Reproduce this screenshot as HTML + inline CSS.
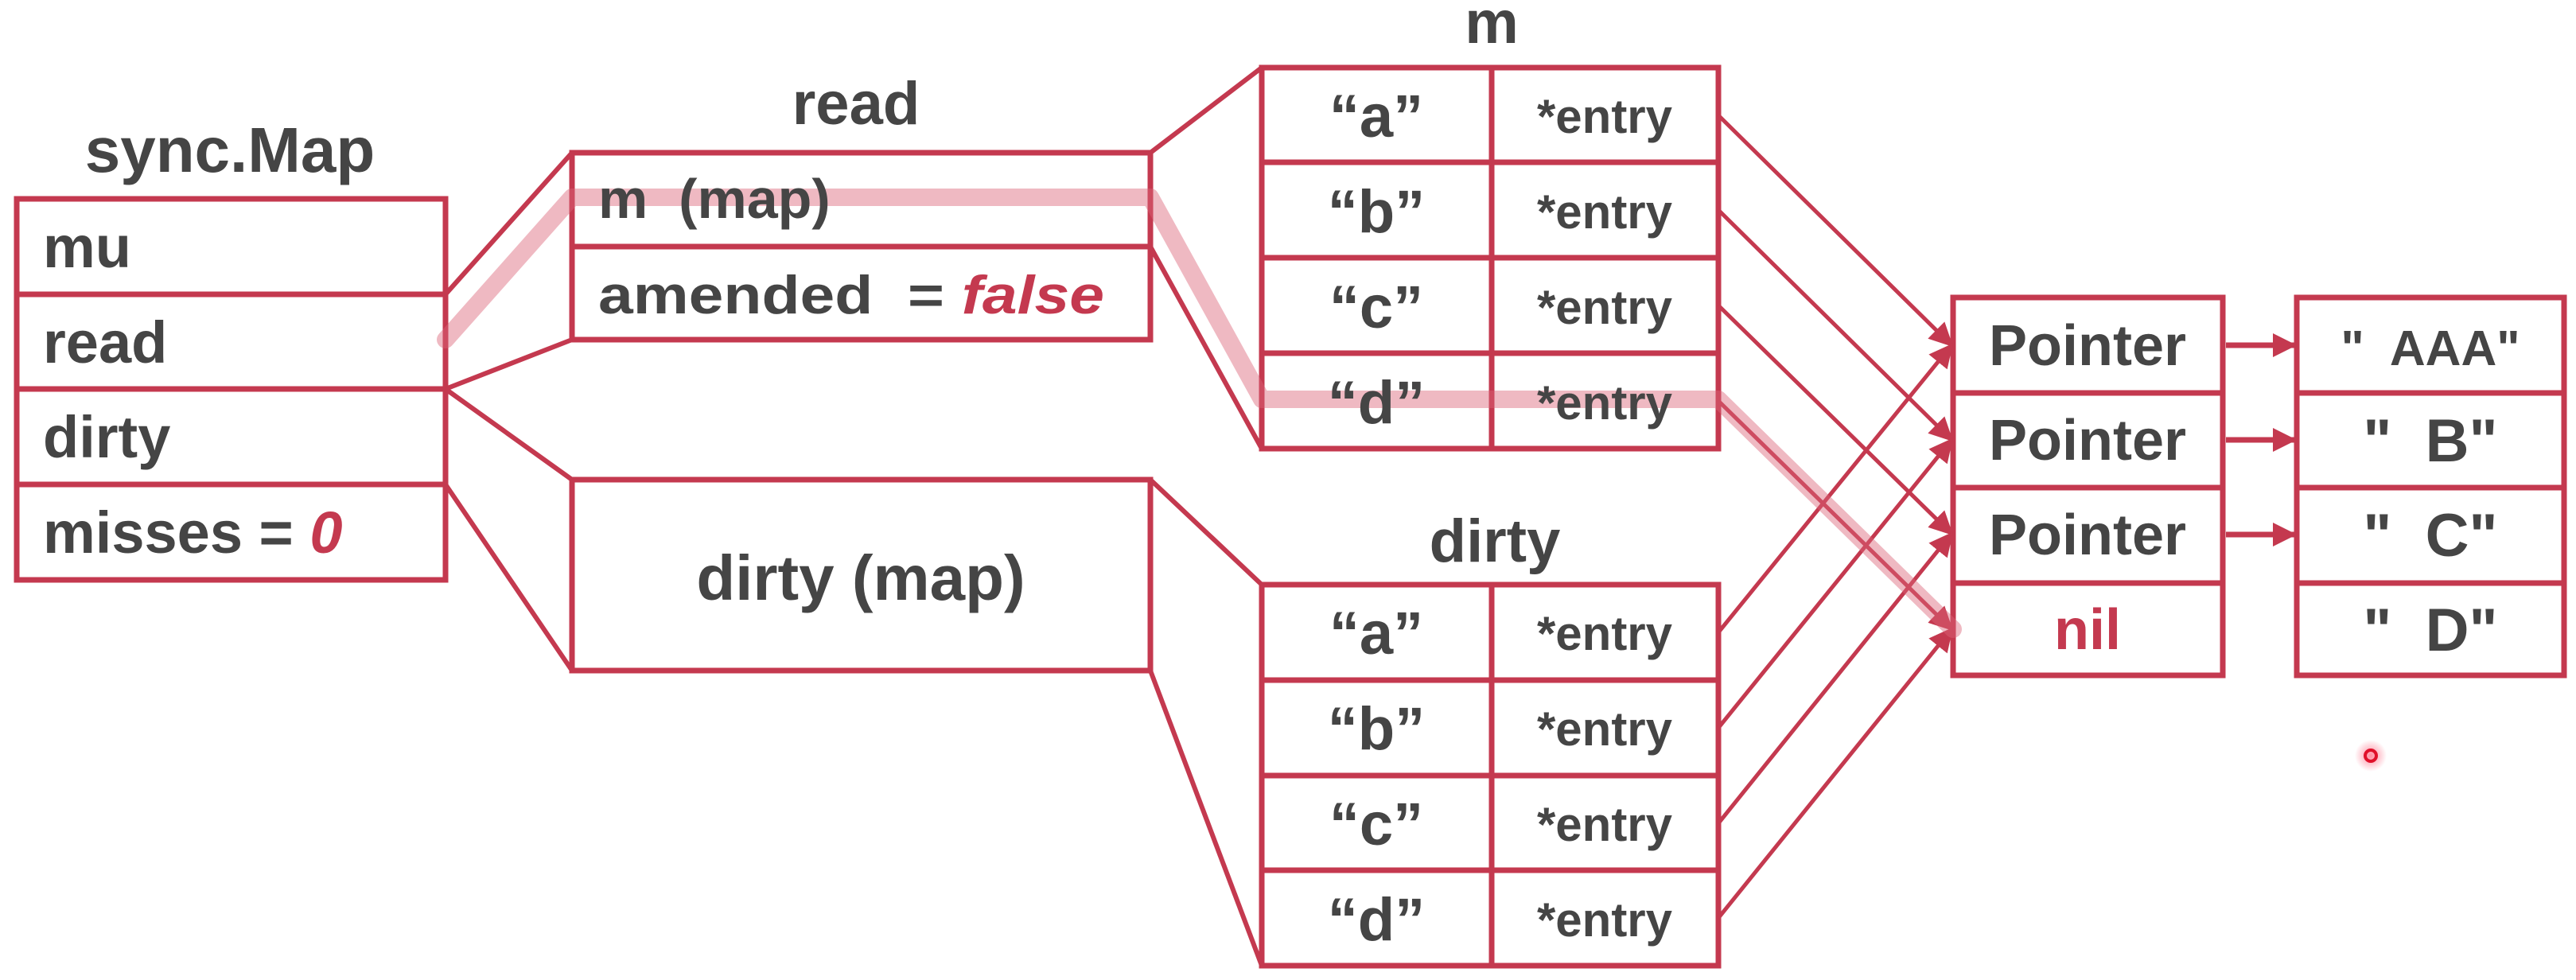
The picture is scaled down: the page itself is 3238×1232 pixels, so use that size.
<!DOCTYPE html>
<html><head><meta charset="utf-8"><style>
html,body{margin:0;padding:0;background:#fff;}
svg{display:block;}
text{font-family:"Liberation Sans",sans-serif;font-weight:bold;fill:#454545;}
</style></head><body>
<svg width="3238" height="1232" viewBox="0 0 3238 1232" xmlns="http://www.w3.org/2000/svg">
<defs>
<marker id="a" viewBox="0 0 10 10" refX="9" refY="5" markerWidth="30" markerHeight="30" markerUnits="userSpaceOnUse" orient="auto"><path d="M0,0 L10,5 L0,10 z" fill="#c4394f"/></marker>
<radialGradient id="glow"><stop offset="0" stop-color="#ff4060" stop-opacity="0.6"/><stop offset="1" stop-color="#ff4060" stop-opacity="0"/></radialGradient>
</defs>
<g stroke="#c4394f" stroke-width="7" fill="none">
<rect x="21" y="250" width="539" height="479"/>
<line x1="21" y1="370" x2="560" y2="370"/><line x1="21" y1="489" x2="560" y2="489"/><line x1="21" y1="609" x2="560" y2="609"/>
<rect x="719" y="192" width="727" height="235"/><line x1="719" y1="310" x2="1446" y2="310"/>
<rect x="719" y="603" width="727" height="240"/>
<rect x="1586" y="85" width="574" height="479"/><line x1="1875" y1="85" x2="1875" y2="564"/>
<line x1="1586" y1="204" x2="2160" y2="204"/><line x1="1586" y1="324" x2="2160" y2="324"/><line x1="1586" y1="444" x2="2160" y2="444"/>
<rect x="1586" y="735" width="574" height="479"/><line x1="1875" y1="735" x2="1875" y2="1214"/>
<line x1="1586" y1="855" x2="2160" y2="855"/><line x1="1586" y1="975" x2="2160" y2="975"/><line x1="1586" y1="1094" x2="2160" y2="1094"/>
<rect x="2455" y="374" width="339" height="475"/>
<line x1="2455" y1="494" x2="2794" y2="494"/><line x1="2455" y1="613" x2="2794" y2="613"/><line x1="2455" y1="733" x2="2794" y2="733"/>
<rect x="2887" y="374" width="336" height="475"/>
<line x1="2887" y1="494" x2="3223" y2="494"/><line x1="2887" y1="613" x2="3223" y2="613"/><line x1="2887" y1="733" x2="3223" y2="733"/>
</g>
<g stroke="#c4394f" stroke-width="6" fill="none">
<line x1="560" y1="370" x2="719" y2="192"/><line x1="560" y1="489" x2="719" y2="427"/>
<line x1="560" y1="489" x2="719" y2="603"/><line x1="560" y1="609" x2="719" y2="843"/>
<line x1="1446" y1="192" x2="1586" y2="85"/><line x1="1446" y1="310" x2="1586" y2="564"/>
<line x1="1446" y1="603" x2="1586" y2="735"/><line x1="1446" y1="843" x2="1586" y2="1214"/>
</g>
<g stroke="#c4394f" stroke-width="5" fill="none" marker-end="url(#a)">
<line x1="2160" y1="145" x2="2453" y2="434"/><line x1="2160" y1="264" x2="2453" y2="553"/>
<line x1="2160" y1="384" x2="2453" y2="671"/><line x1="2160" y1="504" x2="2453" y2="791"/>
<line x1="2160" y1="795" x2="2453" y2="434"/><line x1="2160" y1="915" x2="2453" y2="553"/>
<line x1="2160" y1="1035" x2="2453" y2="671"/><line x1="2160" y1="1154" x2="2453" y2="791"/>
<line x1="2798" y1="434" x2="2884" y2="434" stroke-width="7"/><line x1="2798" y1="553" x2="2884" y2="553" stroke-width="7"/><line x1="2798" y1="672" x2="2884" y2="672" stroke-width="7"/>
</g>
<polyline points="560,427 719,248 1446,248 1586,502 2160,502 2455,791" fill="none" stroke="#dc6478" stroke-opacity="0.45" stroke-width="22" stroke-linecap="round" stroke-linejoin="round"/>
<circle cx="2980" cy="950" r="20" fill="url(#glow)"/>
<circle cx="2980" cy="950" r="7" fill="none" stroke="#e0102a" stroke-width="4"/>
<text x="289" y="216" font-size="80" text-anchor="middle">sync.Map</text>
<text x="54" y="336" font-size="74">mu</text>
<text x="54" y="456" font-size="74">read</text>
<text x="54" y="575" font-size="74">dirty</text>
<text x="54" y="695" font-size="74">misses = <tspan font-style="italic" fill="#c4394f" style="fill:#c4394f">0</tspan></text>
<text x="1076" y="156" font-size="76" text-anchor="middle">read</text>
<text x="752" y="274" font-size="70" xml:space="preserve">m  (map)</text>
<text x="752" y="394" font-size="68" xml:space="preserve" textLength="636" lengthAdjust="spacingAndGlyphs">amended  = <tspan font-style="italic" style="fill:#c4394f">false</tspan></text>
<text x="1082" y="754" font-size="80" text-anchor="middle">dirty (map)</text>
<text x="1875" y="54" font-size="76" text-anchor="middle">m</text>
<text x="1879" y="706" font-size="76" text-anchor="middle">dirty</text>
<g font-size="76" text-anchor="middle">
<text x="1730" y="172">“a”</text><text x="1730" y="292">“b”</text><text x="1730" y="412">“c”</text><text x="1730" y="532">“d”</text>
<text x="1730" y="822">“a”</text><text x="1730" y="942">“b”</text><text x="1730" y="1062">“c”</text><text x="1730" y="1182">“d”</text>
</g>
<g font-size="60" text-anchor="middle">
<text x="2017" y="167">*entry</text><text x="2017" y="287">*entry</text><text x="2017" y="407">*entry</text><text x="2017" y="527">*entry</text>
<text x="2017" y="817">*entry</text><text x="2017" y="937">*entry</text><text x="2017" y="1057">*entry</text><text x="2017" y="1177">*entry</text>
</g>
<g font-size="72" text-anchor="middle">
<text x="2624" y="459">Pointer</text>
<text x="2624" y="578">Pointer</text>
<text x="2624" y="697">Pointer</text>
<text x="2624" y="816" style="fill:#c4394f">nil</text>
<text x="3055" y="459" font-size="62" xml:space="preserve">"  AAA"</text>
<text x="3055" y="580" font-size="76" xml:space="preserve">"  B"</text>
<text x="3055" y="699" font-size="76" xml:space="preserve">"  C"</text>
<text x="3055" y="818" font-size="76" xml:space="preserve">"  D"</text>
</g>
</svg>
</body></html>
